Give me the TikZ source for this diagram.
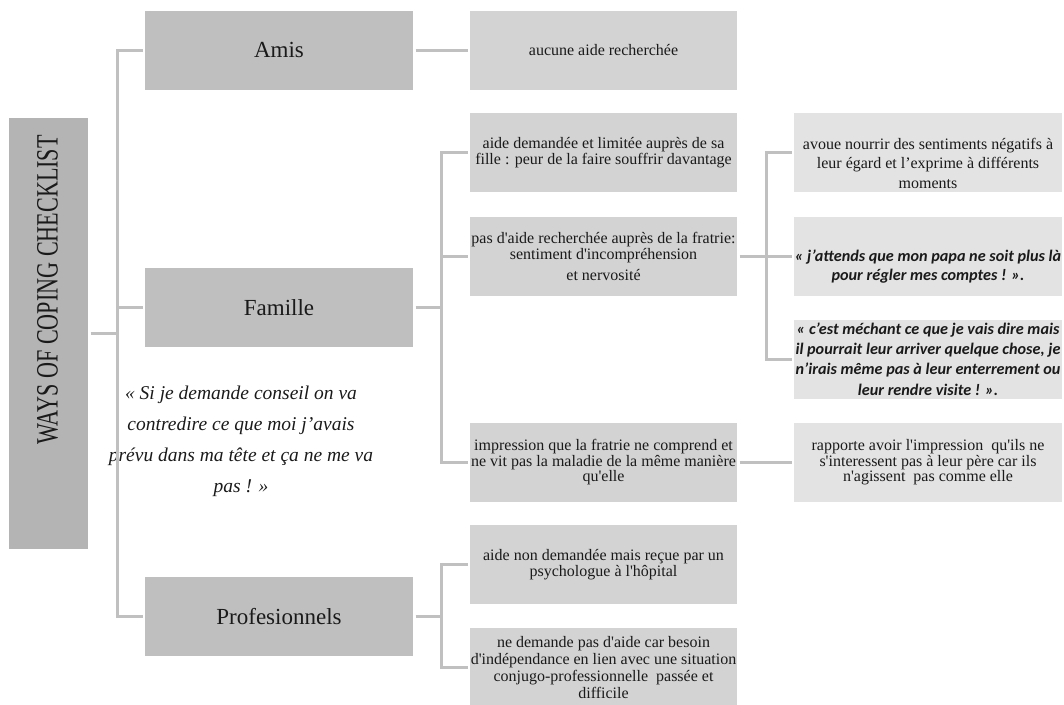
\documentclass[tikz,border=0pt]{standalone}
\usepackage{fontspec}
\usepackage{graphicx}
\setmainfont{Liberation Serif}
\newfontfamily\calib{Carlito}
\newcommand{\sq}{\textquotesingle}
\definecolor{rootc}{HTML}{B4B4B4}
\definecolor{lonec}{HTML}{BFBFBF}
\definecolor{ltwoc}{HTML}{D3D3D3}
\definecolor{lthreec}{HTML}{E3E3E3}
\definecolor{linec}{HTML}{C0C0C0}
\definecolor{txtc}{HTML}{1A1A1A}
\tikzset{
  conn/.style={draw=linec, line width=3pt},
  basebox/.style={rectangle, inner sep=0pt, outer sep=2.5pt, minimum height=79pt, align=center, text=txtc},
  lone/.style={basebox, minimum width=268pt, fill=lonec, font=\fontsize{23}{27}\selectfont},
  ltwo/.style={basebox, minimum width=267pt, fill=ltwoc, font=\fontsize{16}{15.5}\selectfont},
  lthree/.style={basebox, minimum width=268pt, fill=lthreec, font=\fontsize{16}{19.5}\selectfont},
  plaintext/.style={inner sep=0pt, align=center, text=txtc},
  calibtext/.style={plaintext, font=\calib\bfseries\itshape\fontsize{16.2}{19.5}\selectfont},
}
\begin{document}
\begin{tikzpicture}[x=1pt,y=-1pt]
\useasboundingbox (0,0) rectangle (1064,704);

% root
\node[rectangle, fill=rootc, inner sep=0pt, outer sep=2.5pt, minimum width=79pt, minimum height=431pt] (root) at (48.5,333.5) {};
\node[plaintext, rotate=90, font=\fontsize{31}{31}\selectfont] (roottext) at (47.5,290) {\scalebox{0.714}[1]{WAYS OF COPING CHECKLIST}};

% level 1
\node[lone] (amis) at (279,50) {Amis};
\node[lone] (famille) at (279,307.5) {Famille};
\node[lone] (prof) at (279,616.5) {Profesionnels};

% quote
\node[plaintext, font=\itshape\fontsize{19.5}{31}\selectfont] (quote) at (241,441) {« Si je demande conseil on va\\ contredire ce que moi j’avais\\ prévu dans ma tête et ça ne me va\\ pas ! »};

% level 2
\node[ltwo] (aucune) at (603.5,50) {aucune aide recherchée};
\node[ltwo] (fille) at (603.5,152.5) {aide demandée et limitée auprès de sa\\ fille : peur de la faire souffrir davantage};
\node[ltwo] (fratrie) at (603.5,256.5) {pas d\sq aide recherchée auprès de la fratrie:\\ sentiment d\sq incompréhension\\[6pt] et nervosité};
\node[ltwo] (impression) at (603.5,462.5) {impression que la fratrie ne comprend et\\ ne vit pas la maladie de la même manière\\ qu\sq elle};
\node[ltwo] (psy) at (603.5,564.5) {aide non demandée mais reçue par un\\ psychologue à l\sq hôpital};
\node[ltwo, font=\fontsize{16}{17}\selectfont] (indep) at (603.5,667.5) {ne demande pas d\sq aide car besoin\\ d\sq indépendance en lien avec une situation\\ conjugo-professionnelle\ \ passée et\\ difficile};

% level 3
\node[lthree] (avoue) at (928,152.5) {};
\node[plaintext, font=\fontsize{16}{19.5}\selectfont] (avouetext) at (928,163) {avoue nourrir des sentiments négatifs à\\ leur égard et l’exprime à différents\\ moments};
\node[lthree] (attends) at (928,256) {};
\node[calibtext] (attendstext) at (928,266.5) {« j’attends que mon papa ne soit plus là\\ pour régler mes comptes ! ».};
\node[lthree, font=\calib\bfseries\itshape\fontsize{16.2}{20.3}\selectfont] (mechant) at (928,359) {« c’est méchant ce que je vais dire mais\\ il pourrait leur arriver quelque chose, je\\ n’irais même pas à leur enterrement ou\\ leur rendre visite ! ».};
\node[lthree, font=\fontsize{16}{15.5}\selectfont] (rapporte) at (928,462.5) {rapporte avoir l\sq impression\ \ qu\sq ils ne\\ s\sq interessent pas à leur père car ils\\ n\sq agissent\ \ pas comme elle};

% connectors
\coordinate (j0) at (117,333);
\coordinate (j1) at (441,307.5);
\coordinate (j2) at (766,256.5);
\coordinate (j3) at (441,616.5);

\draw[conn] (root.east |- j0) -- (j0);
\draw[conn] (j0) |- (amis.west);
\draw[conn] (j0) |- (famille.west);
\draw[conn] (j0) |- (prof.west);

\draw[conn] (amis.east) -- (aucune.west);

\draw[conn] (famille.east) -- (j1);
\draw[conn] (j1) |- (fille.west);
\draw[conn] (j1) |- (fratrie.west);
\draw[conn] (j1) |- (impression.west);

\draw[conn] (fratrie.east) -- (j2);
\draw[conn] (j2) |- (avoue.west);
\draw[conn] (j2) |- (attends.west);
\draw[conn] (j2) |- (mechant.west);

\draw[conn] (impression.east) -- (rapporte.west);

\draw[conn] (prof.east) -- (j3);
\draw[conn] (j3) |- (psy.west);
\draw[conn] (j3) |- (indep.west);
\end{tikzpicture}
\end{document}
